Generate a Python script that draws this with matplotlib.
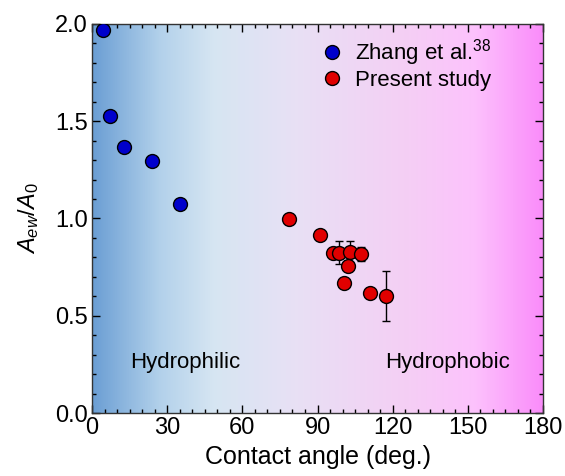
import numpy as np
import matplotlib.pyplot as plt
from matplotlib.colors import LinearSegmentedColormap

plt.rcParams['font.family'] = ['Liberation Sans', 'DejaVu Sans']
plt.rcParams['mathtext.fontset'] = 'custom'
plt.rcParams['mathtext.rm'] = 'Liberation Sans'
plt.rcParams['mathtext.it'] = 'Liberation Sans:italic'

# Literature data (Zhang et al.)
zhang_angle = [4.3, 7.2, 12.7, 24.1, 35.2]
zhang_ratio = [1.966, 1.527, 1.368, 1.297, 1.073]

# Present measurements
present_angle = [78.5, 90.8, 96.1, 98.5, 102.8, 107.3, 102.1, 100.5, 110.8, 117.2]
present_ratio = [0.996, 0.914, 0.824, 0.824, 0.826, 0.819, 0.757, 0.670, 0.619, 0.603]
present_err = [0.0, 0.0, 0.0, 0.06, 0.06, 0.035, 0.0, 0.0, 0.02, 0.128]

# Wettability background: blue (hydrophilic) -> magenta (hydrophobic)
bg_stops = [
    (0.00, (0.42, 0.62, 0.83)),
    (0.15, (0.70, 0.82, 0.92)),
    (0.27, (0.84, 0.90, 0.95)),
    (0.45, (0.91, 0.88, 0.96)),
    (0.70, (0.96, 0.81, 0.96)),
    (0.85, (0.99, 0.76, 0.99)),
    (1.00, (0.98, 0.55, 0.98)),
]
bg_cmap = LinearSegmentedColormap.from_list("wet", bg_stops)

fig = plt.figure(figsize=(5.65, 4.76), dpi=100)
ax = fig.add_axes([0.163, 0.132, 0.798, 0.818])

grad = np.linspace(0, 1, 512).reshape(1, -1)
ax.imshow(grad, cmap=bg_cmap, aspect='auto', extent=[0, 180, 0, 2.0], zorder=0)

ax.errorbar(present_angle, present_ratio, yerr=present_err, fmt='none',
            ecolor='black', elinewidth=1.0, capsize=3, capthick=1.0, zorder=2)
ax.plot(zhang_angle, zhang_ratio, 'o', color='#0000cc', mec='black', mew=1.0,
        ms=10, label='Zhang et al.$^{38}$', zorder=3)
ax.plot(present_angle, present_ratio, 'o', color='#e00000', mec='black', mew=1.0,
        ms=10, label='Present study', zorder=3)

ax.text(37, 0.26, 'Hydrophilic', fontsize=16, ha='center', va='center')
ax.text(142, 0.26, 'Hydrophobic', fontsize=16, ha='center', va='center')

ax.set_xlim(0, 180)
ax.set_ylim(0, 2.0)
ax.set_xticks(np.arange(0, 181, 30))
ax.set_xticks(np.arange(0, 181, 5), minor=True)
ax.set_yticks(np.arange(0, 2.01, 0.5))
ax.set_yticks(np.arange(0, 2.01, 0.1), minor=True)
ax.yaxis.set_major_formatter(plt.FormatStrFormatter('%.1f'))
ax.tick_params(which='both', direction='in', top=True, right=True, labelsize=17)
ax.tick_params(which='major', length=6, width=1, pad=3)
ax.tick_params(which='minor', length=3, width=1)
for s in ax.spines.values():
    s.set_linewidth(1.0)
    s.set_color('#333333')

ax.set_xlabel('Contact angle (deg.)', fontsize=18, labelpad=4)
ax.set_ylabel('$A_{ew}/A_0$', fontsize=17, labelpad=10)

ax.legend(loc='upper left', bbox_to_anchor=(0.465, 1.0), frameon=False,
          fontsize=16, handletextpad=0.3, labelspacing=0.1, borderaxespad=0.2,
          handlelength=1.5)

fig.savefig('out.png', dpi=100)
